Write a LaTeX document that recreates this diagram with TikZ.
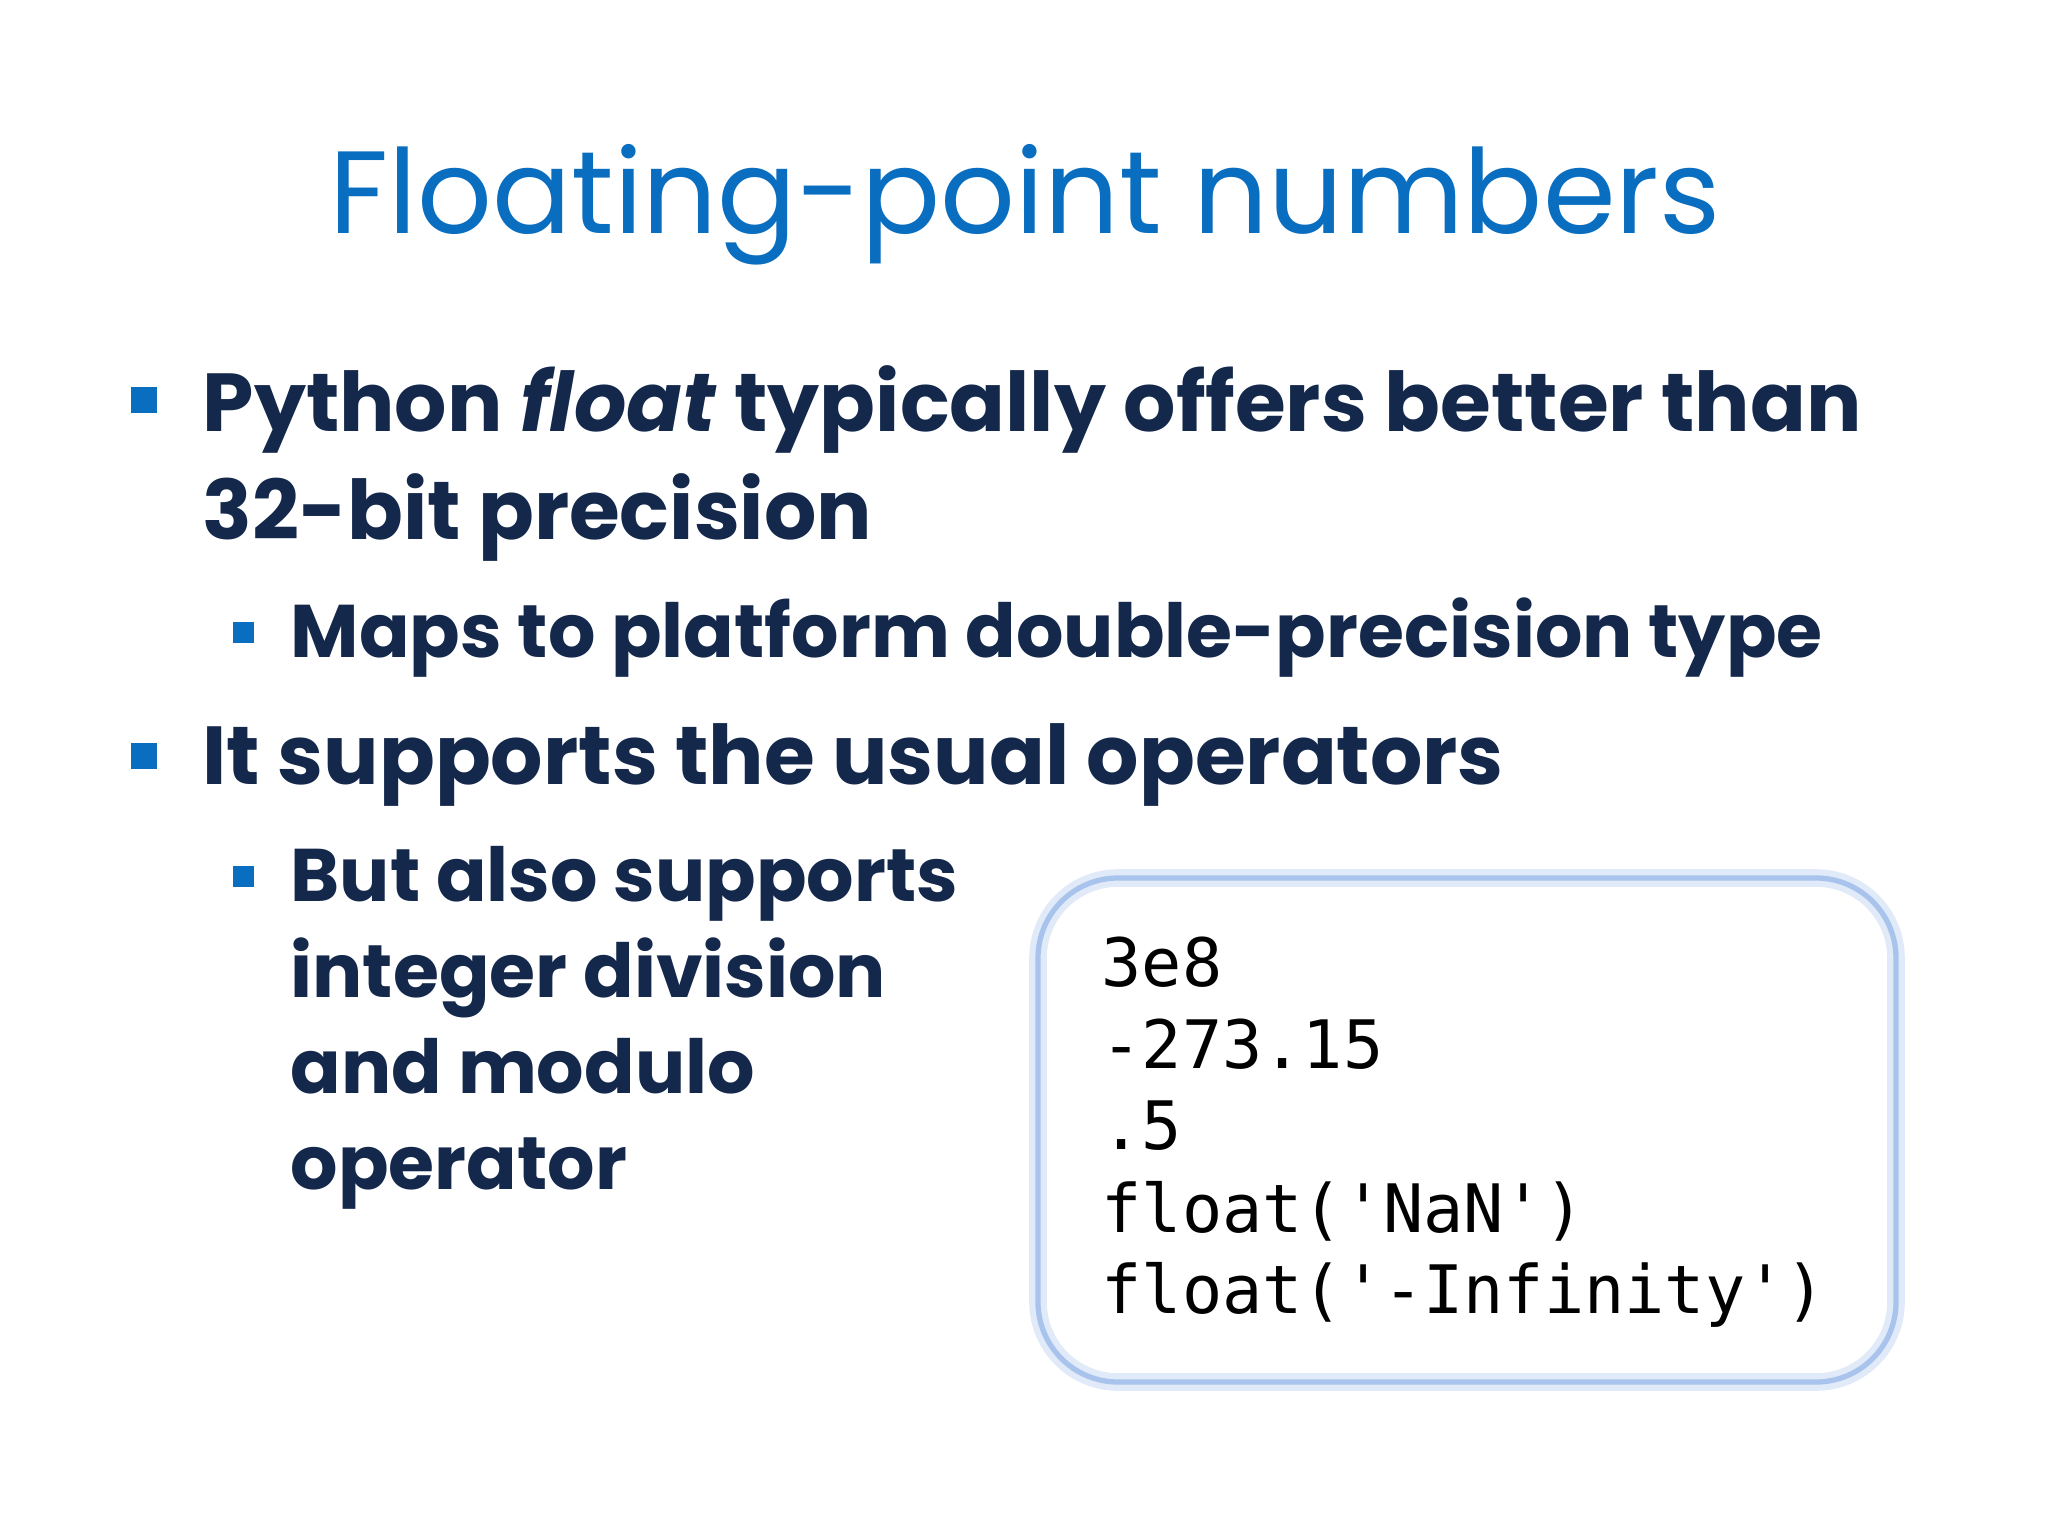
\documentclass[tikz,border=0pt]{standalone}
\usepackage{fontspec}
\setmainfont{Poppins}
\newfontfamily\codefont{DejaVu Sans Mono}
\definecolor{navy}{HTML}{14284B}
\definecolor{tblue}{HTML}{0A6EC0}
\definecolor{bblue}{HTML}{0A6EC0}
\definecolor{boxline}{HTML}{A9C4EC}
\begin{document}
\begin{tikzpicture}[x=0.01cm,y=-0.01cm,
  txt/.style={anchor=base west,inner sep=0,text=navy,font=\fontsize{23.4}{28}\selectfont\bfseries},
  subtxt/.style={anchor=base west,inner sep=0,text=navy,font=\fontsize{21.2}{25}\selectfont\bfseries},
  code/.style={anchor=base west,inner sep=0,text=black,font=\fontsize{19}{23}\selectfont\codefont},
  bul/.style={fill=bblue,inner sep=0,minimum size=26*0.01cm},
  sbul/.style={fill=bblue,inner sep=0,minimum size=21*0.01cm}]
\useasboundingbox (0,0) rectangle (2048,1536);
\fill[white] (0,0) rectangle (2048,1536);
\node[anchor=base,inner sep=0,text=tblue,font=\fontsize{33.3}{38}\selectfont] (title) at (1025,233) {Floating-point numbers};
\node[bul] (b1) at (144,400) {};
\node[txt] (t1) at (202,431) {Python \textit{float} typically offers better than};
\node[txt] (t1b) at (202,539) {32-bit precision};
\node[sbul] (s1) at (243,632) {};
\node[subtxt] (st1) at (290,657) {Maps to platform double-precision type};
\node[bul] (b2) at (144,756) {};
\node[txt] (t2) at (202,784) {It supports the usual operators};
\node[sbul] (s2) at (243,876) {};
\node[subtxt] (st2a) at (290,901) {But also supports};
\node[subtxt] (st2b) at (290,997) {integer division};
\node[subtxt] (st2c) at (290,1093) {and modulo};
\node[subtxt] (st2d) at (290,1189) {operator};
\draw[boxline!35,line width=5pt,rounded corners=80*0.01cm] (1038,878) rectangle (1896,1382);
\draw[boxline,line width=1.5pt,rounded corners=80*0.01cm] (1038,878) rectangle (1896,1382);
\node[code] (c1) at (1101,986) {3e8};
\node[code] (c2) at (1101,1068) {-273.15};
\node[code] (c3) at (1101,1149) {.5};
\node[code] (c4) at (1101,1232) {float('NaN')};
\node[code] (c5) at (1101,1313) {float('-Infinity')};
\end{tikzpicture}
\end{document}
